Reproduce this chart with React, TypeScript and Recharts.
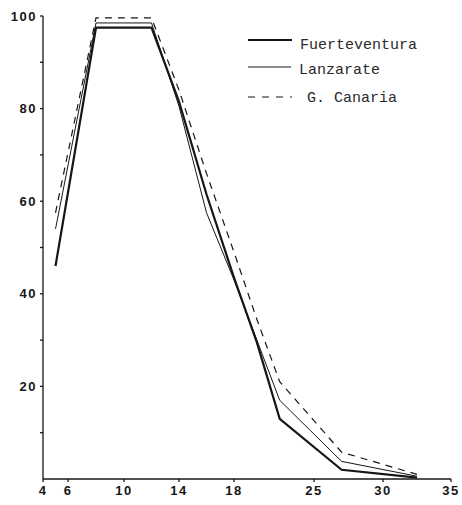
import React from "react";
import { Line, LineChart, XAxis, YAxis } from "recharts";

// x axis of the original is drawn with uneven spacing between its labels
const tickLabels = [4, 6, 10, 14, 18, 25, 30, 35];
const tickSpacing = [0, 25, 81, 136, 191, 271, 340, 408];

const yTicks = [10, 20, 30, 40, 50, 60, 70, 80, 90, 100];

const sizes = [5, 8, 12, 14, 16, 18, 20, 22, 27, 32.5];
const fuerteventura = [46, 97.5, 97.5, 81.5, 61.5, 43.5, 29.5, 13, 2, 0.3];
const lanzarate = [54, 98.5, 98.5, 80.5, 57.5, 43, 30, 17, 3.8, 0.6];
const grancanaria = [57.5, 99.6, 99.6, 84, 66, 49, 34.5, 21, 5.8, 1];

const toAxis = (v: number) => {
  for (let i = 0; i < tickLabels.length - 1; i++) {
    const a = tickLabels[i];
    const b = tickLabels[i + 1];
    if (v <= b) {
      return tickSpacing[i] + ((v - a) / (b - a)) * (tickSpacing[i + 1] - tickSpacing[i]);
    }
  }
  return tickSpacing[tickSpacing.length - 1];
};

const data = sizes.map((s, i) => ({
  pos: toAxis(s),
  fuerteventura: fuerteventura[i],
  lanzarate: lanzarate[i],
  grancanaria: grancanaria[i],
}));

const ink = "#161616";
const axisFont = {
  fontFamily: "Liberation Sans",
  fontWeight: 700,
  fontSize: 13,
  letterSpacing: 1.5,
  fill: ink,
};
const legendFont = { fontFamily: "Liberation Mono", fontSize: 15, fill: "#2a2a2a" };

const ChartLegend = () => (
  <svg width={215} height={80} style={{ position: "absolute", left: 245, top: 30 }}>
    <line x1={3} y1={10} x2={47} y2={10} stroke={ink} strokeWidth={2.2} />
    <text x={55} y={19} {...legendFont}>Fuerteventura</text>
    <line x1={3} y1={37} x2={46} y2={37} stroke={ink} strokeWidth={1} />
    <text x={54} y={44} {...legendFont}>Lanzarate</text>
    <line x1={3} y1={67} x2={47} y2={67} stroke={ink} strokeWidth={1.2} strokeDasharray="7 7" />
    <text x={62} y={72} {...legendFont}>G. Canaria</text>
  </svg>
);

const App = () => {
  return (
    <div style={{ position: "absolute", left: 0, top: 0, width: 462, height: 505, background: "#fff" }}>
      <LineChart
        width={462}
        height={505}
        data={data}
        margin={{ top: 16, right: 11, bottom: 0, left: 0 }}
      >
        <XAxis
          dataKey="pos"
          type="number"
          domain={[0, tickSpacing[tickSpacing.length - 1]]}
          ticks={tickSpacing}
          tickFormatter={(v) => String(tickLabels[tickSpacing.indexOf(v)])}
          interval={0}
          height={26}
          stroke={ink}
          strokeWidth={1.3}
          tickSize={3}
          tickMargin={4}
          tick={axisFont}
        />
        <YAxis
          domain={[0, 100]}
          ticks={yTicks}
          interval={0}
          width={43}
          stroke={ink}
          strokeWidth={1.3}
          tickSize={3}
          tickMargin={3}
          tick={axisFont}
          tickFormatter={(v) => (v % 20 === 0 ? String(v) : "")}
        />
        <Line
          type="linear"
          dataKey="fuerteventura"
          name="Fuerteventura"
          stroke={ink}
          strokeWidth={2.2}
          dot={false}
          isAnimationActive={false}
        />
        <Line
          type="linear"
          dataKey="lanzarate"
          name="Lanzarate"
          stroke={ink}
          strokeWidth={1}
          dot={false}
          isAnimationActive={false}
        />
        <Line
          type="linear"
          dataKey="grancanaria"
          name="G. Canaria"
          stroke={ink}
          strokeWidth={1.2}
          strokeDasharray="7 6"
          dot={false}
          isAnimationActive={false}
        />
      </LineChart>
      <ChartLegend />
    </div>
  );
};

export default App;
